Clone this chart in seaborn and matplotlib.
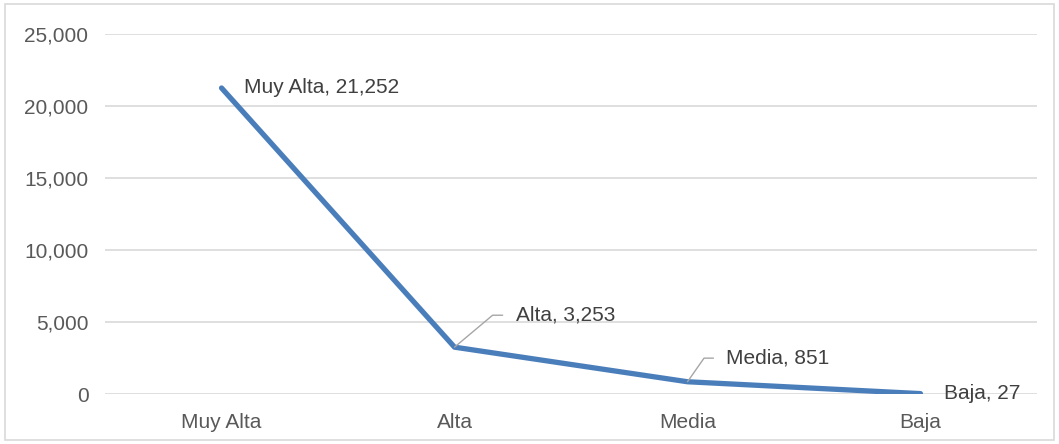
import pandas as pd
import seaborn as sns
import matplotlib.pyplot as plt
from matplotlib.patches import Rectangle
from matplotlib.ticker import FuncFormatter

# data
categorias = ['Muy Alta', 'Alta', 'Media', 'Baja']
valores = [21252, 3253, 851, 27]

df = pd.DataFrame({'categoria': categorias, 'valor': valores})

sns.set_style('white')
plt.rcParams['font.family'] = ['Liberation Sans', 'DejaVu Sans']

fig = plt.figure(figsize=(10.59, 4.44), dpi=100)
ax = fig.add_axes([0.0992, 0.1126, 0.8800, 0.8108])

sns.lineplot(data=df, x='categoria', y='valor', ax=ax, color='#4a7ebb',
             linewidth=3.8, sort=False, solid_capstyle='round')

ax.set_xlim(-0.5, 3.5)
ax.set_ylim(0, 25000)
ax.set_yticks(range(0, 25001, 5000))
ax.yaxis.set_major_formatter(FuncFormatter(lambda v, p: f'{int(v):,}'))
ax.set_xlabel('')
ax.set_ylabel('')
ax.grid(axis='y', color='#d9d9d9', linewidth=1.2)
ax.set_axisbelow(True)
for s in ax.spines.values():
    s.set_visible(False)
ax.tick_params(axis='both', length=0, labelsize=15, labelcolor='#595959')
ax.tick_params(axis='y', pad=12)
ax.tick_params(axis='x', pad=14)

# data labels
lbl = dict(fontsize=15, color='#404040', va='center', ha='left')
ax.annotate(f'{categorias[0]}, {valores[0]:,}', (0, valores[0]),
            xytext=(16, 0), textcoords='offset points', **lbl)
leader = dict(arrowstyle='-', color='#a6a6a6', lw=1, relpos=(0, 0.5),
              shrinkA=7, shrinkB=0, connectionstyle='angle,angleA=0,angleB=40,rad=0')
ax.annotate(f'{categorias[1]}, {valores[1]:,}', (1, valores[1]),
            xytext=(44, 23), textcoords='offset points', arrowprops=leader, **lbl)
leader2 = dict(leader, connectionstyle='angle,angleA=0,angleB=55,rad=0')
ax.annotate(f'{categorias[2]}, {valores[2]:,}', (2, valores[2]),
            xytext=(28, 17), textcoords='offset points', arrowprops=leader2, **lbl)
ax.annotate(f'{categorias[3]}, {valores[3]:,}', (3, valores[3]),
            xytext=(17, 0), textcoords='offset points', **lbl)

# chart area border
fig.patches.append(Rectangle((5 / 1059, 4 / 444), 1049 / 1059, 436 / 444,
                             transform=fig.transFigure, fill=False,
                             edgecolor='#d9d9d9', linewidth=1.2))

fig.savefig('out.png', dpi=100)
